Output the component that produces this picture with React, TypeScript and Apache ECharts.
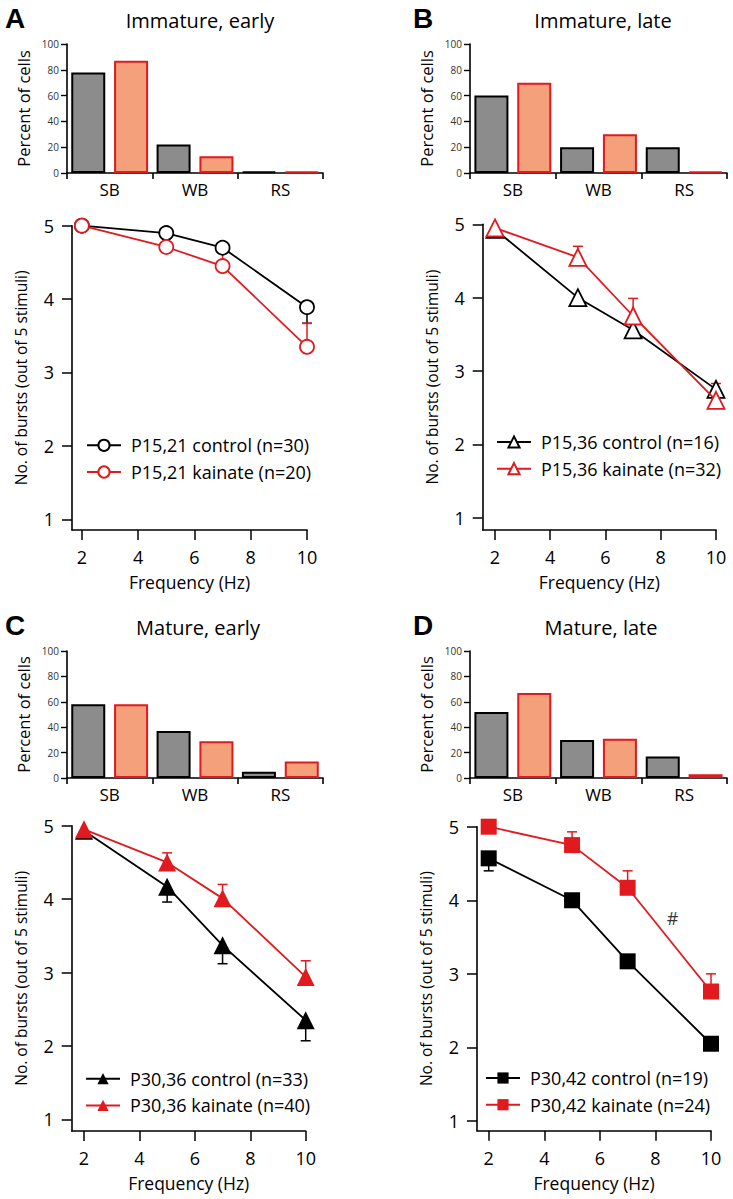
import React, { useEffect, useRef } from 'react';
import * as echarts from 'echarts';

// ---------- data ----------
const barCategories = ['SB', 'WB', 'RS'];
const percentTicks = [0, 20, 40, 60, 80, 100];

const barA_control = [78, 22, 1];
const barA_kainate = [87, 13, 1];
const barB_control = [60, 20, 20];
const barB_kainate = [70, 30, 1];
const barC_control = [58, 37, 5];
const barC_kainate = [58, 29, 13];
const barD_control = [52, 30, 17];
const barD_kainate = [67, 31, 3];

const frequencies = [2, 5, 7, 10];
const freqTicks = [2, 4, 6, 8, 10];
const burstTicks = [1, 2, 3, 4, 5];

const burstA_control = [5.0, 4.9, 4.7, 3.89];
const burstA_kainate = [5.0, 4.71, 4.45, 3.35];
const errA_control = [0, 0, 0, -0.22];
const errA_kainate = [0, 0.17, 0.22, 0.32];

const burstB_control = [4.93, 4.0, 3.56, 2.75];
const burstB_kainate = [4.95, 4.55, 3.75, 2.6];
const errB_control = [0, 0, 0, 0];
const errB_kainate = [0, 0.15, 0.24, 0.23];

const burstC_control = [4.93, 4.17, 3.37, 2.35];
const burstC_kainate = [4.95, 4.5, 4.01, 2.94];
const errC_control = [0, -0.21, -0.25, -0.28];
const errC_kainate = [0, 0.13, 0.19, 0.22];

const burstD_control = [4.57, 4.0, 3.17, 2.05];
const burstD_kainate = [5.0, 4.75, 4.17, 2.76];
const errD_control = [-0.17, 0, 0, 0];
const errD_kainate = [0, 0.18, 0.23, 0.24];

const annotationD = [[8.62, 3.76]];

const legendA = ['P15,21 control (n=30)', 'P15,21 kainate (n=20)'];
const legendB = ['P15,36 control (n=16)', 'P15,36 kainate (n=32)'];
const legendC = ['P30,36 control (n=33)', 'P30,36 kainate (n=40)'];
const legendD = ['P30,42 control (n=19)', 'P30,42 kainate (n=24)'];

const titles = ['Immature, early', 'Immature, late', 'Mature, early', 'Mature, late'];
const letters = ['A', 'B', 'C', 'D'];

// ---------- styles ----------
const BLACK = '#000000';
const RED = '#e01a1f';
const GRAY = '#8c8c8c';
const SALMON = '#f4a07a';
const FONT = '"Open Sans", "Noto Sans", sans-serif';

const panels = [
  {
    barCtrl: barA_control, barKai: barA_kainate,
    ctrl: burstA_control, kai: burstA_kainate, eCtrl: errA_control, eKai: errA_kainate,
    legend: legendA, symbol: 'circle', filled: false, size: 14,
    bar: { left: 67, top: 44, width: 256, height: 129 },
    line: { left: 72, top: 225.7, width: 235, height: 304.3 }, xmin: 1.65, ymin: 0.854,
    leg: { left: 86, top: 436.3 }, letterPos: [5, 18], titlePos: [200, 20],
  },
  {
    barCtrl: barB_control, barKai: barB_kainate,
    ctrl: burstB_control, kai: burstB_kainate, eCtrl: errB_control, eKai: errB_kainate,
    legend: legendB, symbol: 'triangle', filled: false, size: 17,
    bar: { left: 470, top: 44, width: 257, height: 129 },
    line: { left: 482.7, top: 224.3, width: 233.3, height: 305.7 }, xmin: 1.555, ymin: 0.833,
    leg: { left: 496, top: 433 }, letterPos: [413, 18], titlePos: [603, 20],
  },
  {
    barCtrl: barC_control, barKai: barC_kainate,
    ctrl: burstC_control, kai: burstC_kainate, eCtrl: errC_control, eKai: errC_kainate,
    legend: legendC, symbol: 'triangle', filled: true, size: 18,
    bar: { left: 67, top: 651, width: 256, height: 127 },
    line: { left: 71.7, top: 825.7, width: 234, height: 305.3 }, xmin: 1.556, ymin: 0.841,
    leg: { left: 85, top: 1069.7 }, letterPos: [5, 625], titlePos: [198, 627.5],
  },
  {
    barCtrl: barD_control, barKai: barD_kainate,
    ctrl: burstD_control, kai: burstD_kainate, eCtrl: errD_control, eKai: errD_kainate,
    legend: legendD, symbol: 'rect', filled: true, size: 16,
    bar: { left: 470, top: 651, width: 257, height: 127 },
    line: { left: 477, top: 826.7, width: 234, height: 304 }, xmin: 1.579, ymin: 0.868,
    leg: { left: 485, top: 1069 }, letterPos: [413, 625], titlePos: [601, 627.5],
  },
];

function errorBarSeries(xIdx: number, vals: number[], errs: number[], color: string) {
  return {
    type: 'custom',
    xAxisIndex: xIdx,
    yAxisIndex: xIdx,
    silent: true,
    z: 2,
    clip: false,
    encode: { x: 0, y: 1 },
    data: frequencies.map((f, j) => [f, vals[j], errs[j]]),
    renderItem: (params: any, api: any) => {
      const x = api.value(0);
      const y = api.value(1);
      const e = api.value(2);
      if (!e) return { type: 'group', children: [] };
      const p0 = api.coord([x, y]);
      const p1 = api.coord([x, y + e]);
      return {
        type: 'group',
        children: [
          { type: 'line', shape: { x1: p0[0], y1: p0[1], x2: p1[0], y2: p1[1] }, style: { stroke: color, lineWidth: 1.5 } },
          { type: 'line', shape: { x1: p1[0] - 5, y1: p1[1], x2: p1[0] + 5, y2: p1[1] }, style: { stroke: color, lineWidth: 1.5 } },
        ],
      };
    },
  };
}

function buildOption() {
  const grid: any[] = [];
  const xAxis: any[] = [];
  const yAxis: any[] = [];
  const series: any[] = [];
  const legend: any[] = [];
  const graphic: any[] = [];
  const axisLine = { show: true, onZero: false, lineStyle: { color: BLACK, width: 1.6 } };

  panels.forEach((p, i) => {
    const bi = i * 2;
    const li = i * 2 + 1;
    grid.push({ ...p.bar });
    grid.push({ ...p.line });

    xAxis.push({
      gridIndex: bi, type: 'category', data: barCategories, boundaryGap: true,
      axisLine, axisTick: { show: true, length: 6, lineStyle: { color: BLACK, width: 1.6 } },
      axisLabel: { color: BLACK, fontSize: 17, fontFamily: FONT, margin: 8 },
      splitLine: { show: false },
    });
    yAxis.push({
      gridIndex: bi, type: 'value', min: 0, max: 100, interval: 20,
      axisLine, axisTick: { show: true, length: 6, lineStyle: { color: BLACK, width: 1.4 } },
      axisLabel: { color: '#333', fontSize: 10, fontFamily: FONT, margin: 8, customValues: percentTicks },
      splitLine: { show: false },
      name: 'Percent of cells', nameLocation: 'middle', nameGap: 35,
      nameTextStyle: { color: BLACK, fontSize: 16.5, fontFamily: FONT },
    });

    xAxis.push({
      gridIndex: li, type: 'value', min: p.xmin, max: 10,
      axisLine, axisTick: { show: true, length: 10, customValues: freqTicks, lineStyle: { color: BLACK, width: 1.5 } },
      axisLabel: { color: BLACK, fontSize: 18, fontFamily: FONT, margin: 18, customValues: freqTicks },
      splitLine: { show: false },
      name: 'Frequency (Hz)', nameLocation: 'middle', nameGap: 43,
      nameTextStyle: { color: BLACK, fontSize: 17.5, fontFamily: FONT },
    });
    yAxis.push({
      gridIndex: li, type: 'value', min: p.ymin, max: 5,
      axisLine, axisTick: { show: true, length: 10, customValues: burstTicks, lineStyle: { color: BLACK, width: 1.5 } },
      axisLabel: { color: BLACK, fontSize: 18, fontFamily: FONT, margin: 18, customValues: burstTicks },
      splitLine: { show: false },
      name: 'No. of bursts (out of 5 stimuli)', nameLocation: 'middle', nameGap: 43,
      nameTextStyle: { color: BLACK, fontSize: 15.5, fontFamily: FONT },
    });

    series.push({
      type: 'bar', xAxisIndex: bi, yAxisIndex: bi, data: p.barCtrl, barWidth: 34, barGap: '26%',
      itemStyle: { color: GRAY, borderColor: BLACK, borderWidth: 2 }, silent: true,
    });
    series.push({
      type: 'bar', xAxisIndex: bi, yAxisIndex: bi, data: p.barKai, barWidth: 34, barGap: '26%',
      itemStyle: { color: SALMON, borderColor: RED, borderWidth: 2 }, silent: true,
    });

    series.push(errorBarSeries(li, p.ctrl, p.eCtrl, BLACK));
    series.push({
      type: 'line', name: p.legend[0], xAxisIndex: li, yAxisIndex: li,
      data: frequencies.map((f, j) => [f, p.ctrl[j]]),
      symbol: p.symbol, symbolSize: p.size, clip: false, z: 3, silent: true,
      lineStyle: { color: BLACK, width: 1.8 },
      itemStyle: { color: p.filled ? BLACK : '#ffffff', borderColor: BLACK, borderWidth: p.filled ? 0 : 1.8 },
    });
    series.push(errorBarSeries(li, p.kai, p.eKai, RED));
    series.push({
      type: 'line', name: p.legend[1], xAxisIndex: li, yAxisIndex: li,
      data: frequencies.map((f, j) => [f, p.kai[j]]),
      symbol: p.symbol, symbolSize: p.size, clip: false, z: 4, silent: true,
      lineStyle: { color: RED, width: 1.8 },
      itemStyle: { color: p.filled ? RED : '#ffffff', borderColor: RED, borderWidth: p.filled ? 0 : 1.8 },
    });

    legend.push({
      data: p.legend, orient: 'vertical', left: p.leg.left, top: p.leg.top,
      itemWidth: 34, itemHeight: 14, itemGap: 8.7, padding: 0, selectedMode: false,
      textStyle: { color: BLACK, fontSize: 18, fontFamily: FONT, padding: [0, 0, 0, 5] },
    });

    graphic.push({
      type: 'text', x: p.letterPos[0], y: p.letterPos[1],
      style: { text: letters[i], fill: BLACK, font: 'bold 28px "Liberation Sans", Arial, sans-serif', align: 'left', verticalAlign: 'middle' },
    });
    graphic.push({
      type: 'text', x: p.titlePos[0], y: p.titlePos[1],
      style: { text: titles[i], fill: BLACK, font: `20px ${FONT}`, align: 'center', verticalAlign: 'middle' },
    });
  });

  series.push({
    type: 'scatter', xAxisIndex: 7, yAxisIndex: 7, data: annotationD, symbolSize: 1,
    itemStyle: { color: 'rgba(0,0,0,0)' }, silent: true, z: 5,
    label: { show: true, formatter: '#', position: 'inside', color: BLACK, fontSize: 18, fontFamily: FONT },
  });

  return { animation: false, backgroundColor: '#ffffff', grid, xAxis, yAxis, series, legend, graphic };
}

export default function App() {
  const ref = useRef<HTMLDivElement>(null);
  useEffect(() => {
    if (!ref.current) return;
    const chart = echarts.init(ref.current, undefined, { renderer: 'svg' });
    chart.setOption(buildOption() as any);
    return () => chart.dispose();
  }, []);
  return <div ref={ref} style={{ position: 'absolute', left: 0, top: 0, width: 733, height: 1199 }} />;
}
